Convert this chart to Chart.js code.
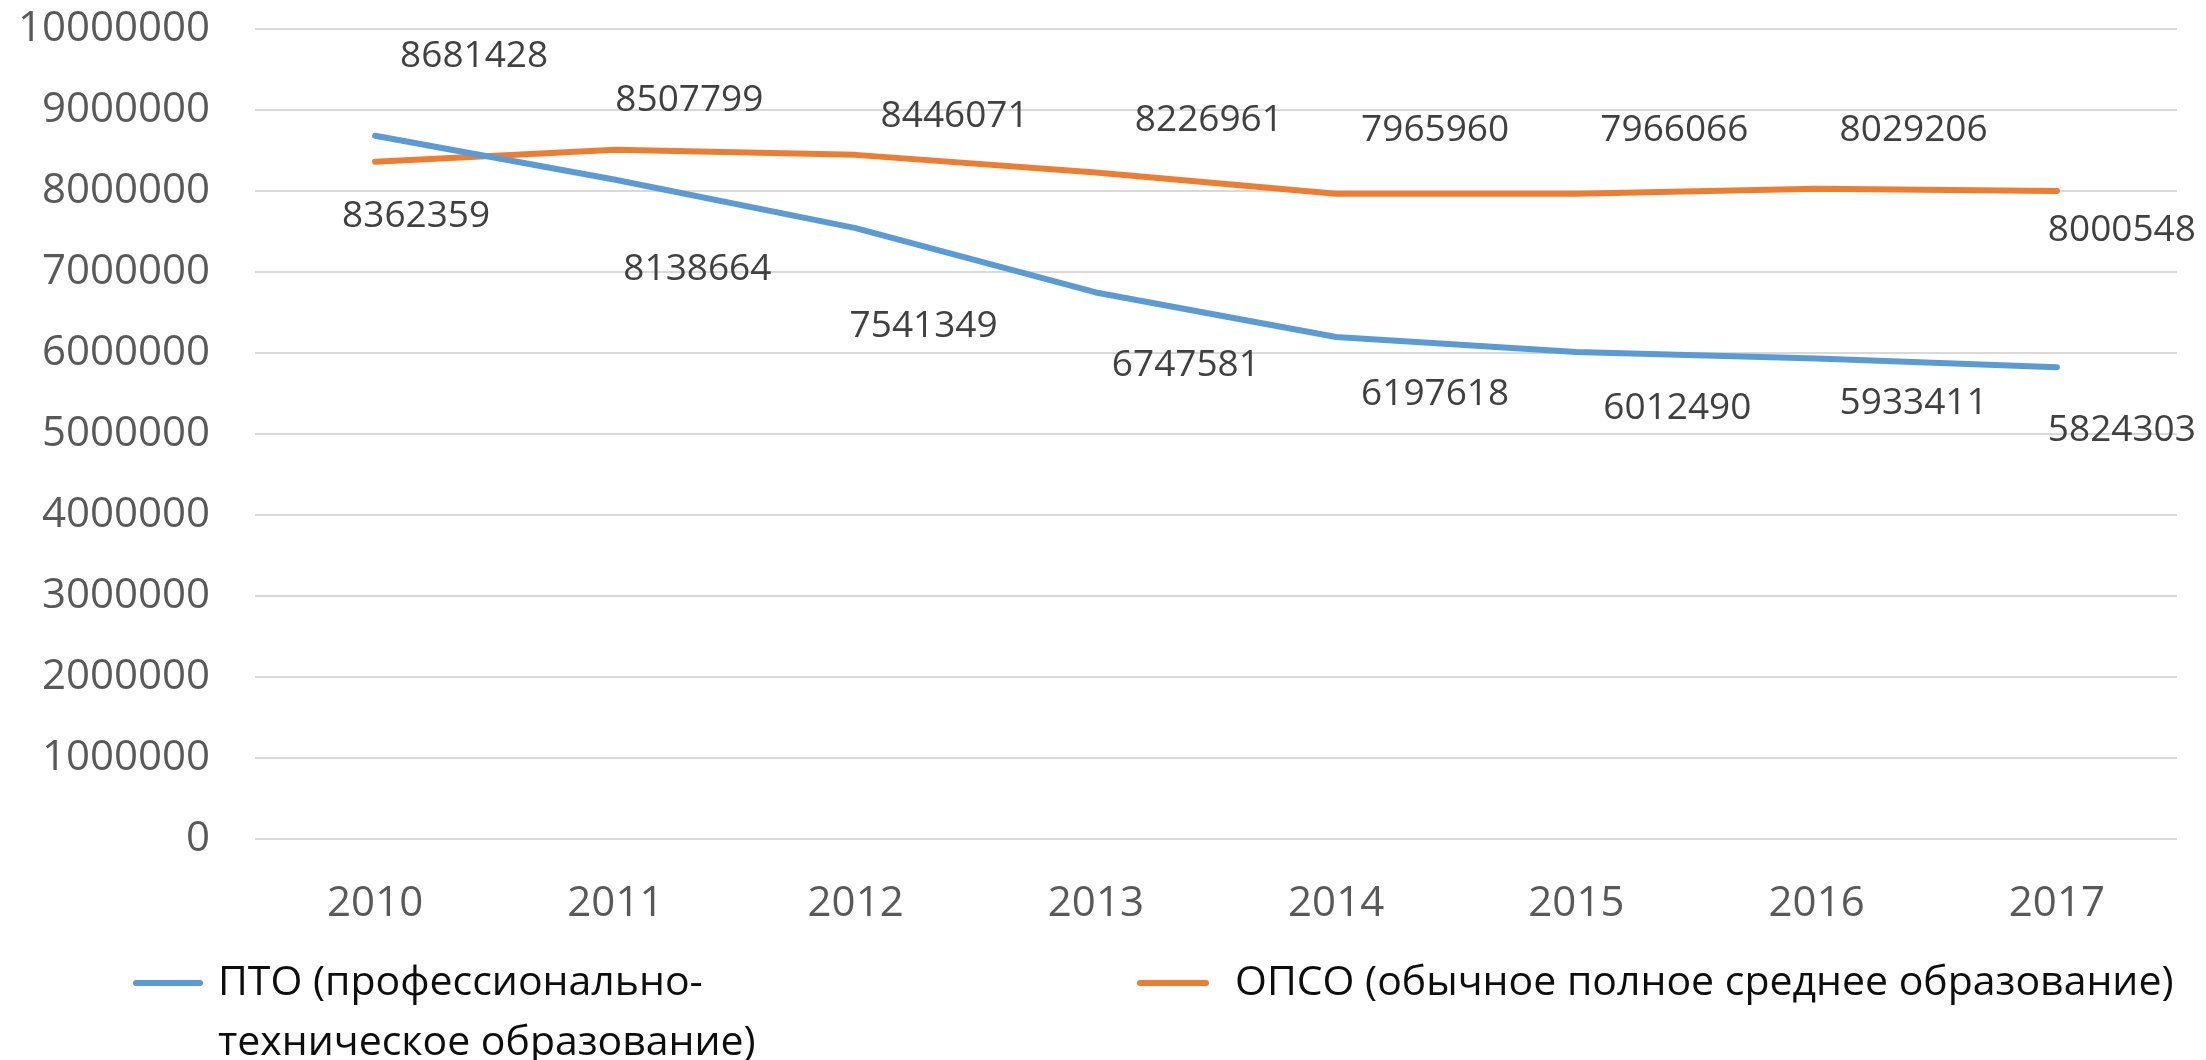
<!DOCTYPE html>
<html>
<head>
<meta charset="utf-8">
<script src="https://cdn.jsdelivr.net/npm/chart.js@4.4.1/dist/chart.umd.min.js"></script>
<style>
html,body{margin:0;padding:0;background:#fff;}
canvas{display:block;}
</style>
</head>
<body>
<canvas id="c" width="2206" height="1060"></canvas>
<script>
// ---- data ----
const years = ['2010','2011','2012','2013','2014','2015','2016','2017'];
const ptoValues = [8681428, 8138664, 7541349, 6747581, 6197618, 6012490, 5933411, 5824303];
const opsoValues = [8362359, 8507799, 8446071, 8226961, 7965960, 7966066, 8029206, 8000548];
const seriesNames = ['ПТО (профессионально-техническое образование)', 'ОПСО (обычное полное среднее образование)'];
const yTicks = [0, 1000000, 2000000, 3000000, 4000000, 5000000, 6000000, 7000000, 8000000, 9000000, 10000000];

// ---- styling / label placement (offsets relative to each point, px) ----
const FONT = "'Open Sans', 'Noto Sans', sans-serif";
const labelOffsets = [
  [[99,-79],[82,90],[68,98],[90,73],[99,57],[101,56],[97,45],[65,63]],
  [[41,55],[74,-49],[99,-38],[113,-52],[99,-63],[98,-63],[97,-58],[65,39]]
];

const dataLabelPlugin = {
  id: 'dataLabels',
  afterDatasetsDraw(chart) {
    const ctx = chart.ctx;
    ctx.save();
    ctx.font = "37px " + FONT;
    ctx.fillStyle = '#404040';
    ctx.textAlign = 'center';
    ctx.textBaseline = 'middle';
    chart.data.datasets.forEach((ds, di) => {
      const meta = chart.getDatasetMeta(di);
      meta.data.forEach((pt, i) => {
        const off = labelOffsets[di][i];
        ctx.fillText(String(ds.data[i]), pt.x + off[0], pt.y + off[1]);
      });
    });
    ctx.restore();
  }
};

function wrapText(ctx, text, maxW) {
  if (ctx.measureText(text).width <= maxW) return [text];
  const parts = text.split(/(?<=-)|(?= )/);
  const lines = [];
  let cur = '';
  parts.forEach(p => {
    const test = cur + p;
    if (cur && ctx.measureText(test).width > maxW) {
      lines.push(cur);
      cur = p.trimStart();
    } else cur = test;
  });
  if (cur) lines.push(cur);
  return lines;
}

const legendPlugin = {
  id: 'customLegend',
  afterDraw(chart) {
    const ctx = chart.ctx;
    ctx.save();
    ctx.font = "41px " + FONT;
    ctx.textBaseline = 'middle';
    ctx.textAlign = 'left';
    const items = [
      {lineX: 136, lineW: 64, textX: 218, y: 983, maxW: 700},
      {lineX: 1140, lineW: 66, textX: 1235, y: 983, maxW: 960}
    ];
    chart.data.datasets.forEach((ds, i) => {
      const it = items[i];
      ctx.strokeStyle = ds.borderColor;
      ctx.lineWidth = 6;
      ctx.lineCap = 'round';
      ctx.beginPath();
      ctx.moveTo(it.lineX, it.y);
      ctx.lineTo(it.lineX + it.lineW, it.y);
      ctx.stroke();
      ctx.fillStyle = '#0d0d0d';
      const lines = wrapText(ctx, ds.label, it.maxW);
      lines.forEach((ln, k) => ctx.fillText(ln, it.textX, it.y + k * 60));
    });
    ctx.restore();
  }
};

new Chart(document.getElementById('c'), {
  type: 'line',
  data: {
    labels: years,
    datasets: [
      {label: seriesNames[0], data: ptoValues, borderColor: '#5b9bd5', backgroundColor: '#5b9bd5'},
      {label: seriesNames[1], data: opsoValues, borderColor: '#ed7d31', backgroundColor: '#ed7d31'}
    ]
  },
  options: {
    responsive: false,
    devicePixelRatio: 1,
    animation: false,
    events: [],
    elements: {
      line: {borderWidth: 6, tension: 0, borderCapStyle: 'round', borderJoinStyle: 'round'},
      point: {radius: 0, hoverRadius: 0}
    },
    layout: {padding: {top: 29, right: 29, bottom: 121, left: 0}},
    plugins: {legend: {display: false}, tooltip: {enabled: false}},
    scales: {
      x: {
        offset: true,
        grid: {display: false, drawTicks: false},
        border: {display: false},
        ticks: {color: '#595959', font: {family: FONT, size: 42}, padding: 40, maxRotation: 0},
        afterFit(s) { s.height = 100; }
      },
      y: {
        min: 0, max: 10000000,
        afterBuildTicks(s) { s.ticks = yTicks.map(v => ({value: v})); },
        grid: {color: '#d9d9d9', lineWidth: 2, drawTicks: false},
        border: {display: false},
        ticks: {color: '#595959', font: {family: FONT, size: 42}, padding: 45, callback: v => String(v)},
        afterFit(s) { s.width = 255; s.paddingTop = 0; s.paddingBottom = 0; }
      }
    }
  },
  plugins: [dataLabelPlugin, legendPlugin]
});
</script>
</body>
</html>
